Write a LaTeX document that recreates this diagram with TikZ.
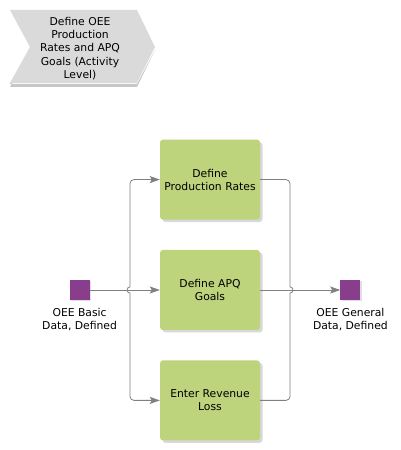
\documentclass[tikz,border=0pt]{standalone}
\usepackage{fontspec}
\setmainfont{DejaVu Sans}
\usetikzlibrary{positioning,calc,arrows.meta,shadows}
\definecolor{fngreen}{RGB}{189,211,124}
\definecolor{evpurple}{RGB}{137,61,141}
\definecolor{hdgray}{RGB}{218,218,218}
\definecolor{lngray}{RGB}{128,128,128}
\begin{document}
\begin{tikzpicture}[x=1pt,y=1pt,node distance=30pt,font=\fontsize{10.8}{13.2}\selectfont]
\tikzstyle{func}=[draw=none,fill=fngreen,rounded corners=3pt,minimum width=100pt,minimum height=80pt,
  align=center,inner sep=2pt,drop shadow={shadow xshift=2.5pt,shadow yshift=-2.5pt,fill=black!30,opacity=.5}]
\tikzstyle{event}=[fill=evpurple,minimum size=20pt,inner sep=0pt,
  drop shadow={shadow xshift=1.5pt,shadow yshift=-1.5pt,fill=black!25,opacity=.5}]
\tikzstyle{evlabel}=[align=center,inner sep=0pt]
\tikzstyle{conn}=[draw=lngray,line width=.8pt,rounded corners=4pt]
\tikzstyle{arr}=[-{Stealth[length=10pt,width=7pt,inset=2pt]}]
\useasboundingbox (0,0) rectangle (400,450);
% header
\fill[black!22] (10,366) -- (137,366) -- (155,400) -- (137,363) -- (10,363) -- (30,400) -- cycle;
\fill[hdgray] (10,440) -- (137,440) -- (155,403) -- (137,367) -- (10,367) -- (30,403) -- cycle;
\node[align=center,inner sep=0pt] (hd) at (80,401.5) {Define OEE\\Production\\Rates and APQ\\Goals (Activity\\Level)};
% functions
\node[func] (apq) at (210,160) {Define APQ\\Goals};
\node[func] (rates) [above=of apq] {Define\\Production Rates};
\node[func] (loss) [below=of apq] {Enter Revenue\\Loss};
% events
\node[event] (basic) [left=70pt of apq] {};
\node[event] (general) [right=80pt of apq] {};
\node[evlabel] (basicl) [below=8pt of basic] {OEE Basic\\Data, Defined};
\node[evlabel] (generall) [below=8pt of general] {OEE General\\Data, Defined};
\coordinate (jin) at (130,160);
\coordinate (jout) at (290,160);
% connectors
\draw[conn,arr] (basic) -- (apq);
\draw[conn] ($(jin)+(0,3)$) arc (90:270:3);
\draw[conn,arr] ($(jin)+(0,3)$) |- (rates);
\draw[conn,arr] ($(jin)+(0,-3)$) |- (loss);
\draw[conn,arr] (apq) -- (general);
\draw[conn] ($(jout)+(0,3)$) arc (90:-90:3);
\draw[conn] (rates) -| ($(jout)+(0,3)$);
\draw[conn] (loss) -| ($(jout)+(0,-3)$);
\end{tikzpicture}
\end{document}
